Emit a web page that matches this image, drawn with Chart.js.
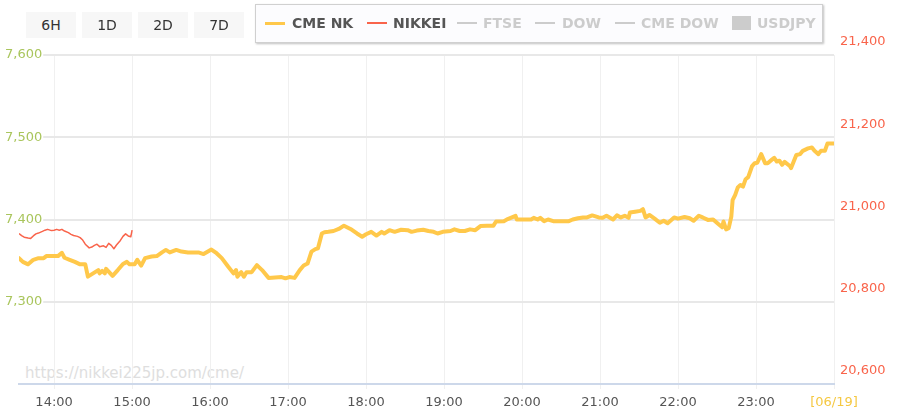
<!DOCTYPE html>
<html><head><meta charset="utf-8">
<script src="https://cdn.jsdelivr.net/npm/chart.js@4.4.0/dist/chart.umd.min.js"></script>
<style>
html,body{margin:0;padding:0;background:#fff;}
#wrap{position:relative;width:900px;height:415px;overflow:hidden;font-family:'DejaVu Sans',sans-serif;}
#c{position:absolute;left:0;top:0;z-index:1;}
#wm{position:absolute;left:25px;top:364px;font-size:15px;line-height:18px;color:#dedede;z-index:0;white-space:nowrap;}
.btn{position:absolute;top:12px;width:50px;height:26px;line-height:26px;background:#f7f7f7;color:#333;font-size:14px;text-align:center;z-index:2;}
#legend{position:absolute;left:255px;top:4px;width:566px;height:37px;background:#fcfcfe;border:1px solid #d0d0d0;box-shadow:1px 1px 2px rgba(0,0,0,0.25);z-index:2;}
.sw{position:absolute;}
.tx{position:absolute;top:0;line-height:37px;font-size:14px;font-weight:bold;white-space:nowrap;}
</style></head>
<body>
<div id="wrap">
  <div id="wm">https://nikkei225jp.com/cme/</div>
  <canvas id="c" width="900" height="415"></canvas>
  <div id="buttons"></div>
  <div id="legend"></div>
</div>
<script>
// ---- data ----
const rangeButtons = ["6H", "1D", "2D", "7D"];
const legendNames = ["CME NK", "NIKKEI", "FTSE", "DOW", "CME DOW", "USDJPY"];
const legendActive = [true, true, false, false, false, false];

const xRange = ["13:33", "00:00"];
const xTickTimes = ["14:00","15:00","16:00","17:00","18:00","19:00","20:00","21:00","22:00","23:00","00:00"];
const xTickLabels = ["14:00","15:00","16:00","17:00","18:00","19:00","20:00","21:00","22:00","23:00","[06/19]"];
const leftTicks = [7300, 7400, 7500, 7600];
const rightTicks = [20600, 20800, 21000, 21200, 21400];

const nikkeiTimes = ["13:33","13:35","13:37","13:40","13:42","13:44","13:46","13:48","13:51","13:53","13:55","13:58","14:00","14:02","14:04","14:06","14:08","14:11","14:13","14:15","14:18","14:20","14:22","14:24","14:27","14:29","14:31","14:33","14:35","14:38","14:40","14:42","14:44","14:46","14:48","14:51","14:53","14:55","14:57","14:59","15:00"];
const nikkeiValues = [20966,20961,20957,20955,20954,20960,20965,20967,20971,20974,20976,20973,20974,20976,20974,20976,20972,20968,20964,20961,20959,20956,20950,20940,20931,20933,20937,20940,20934,20936,20932,20942,20937,20929,20938,20949,20959,20965,20960,20958,20974];

const cmeTimes = ["13:33","13:36","13:40","13:44","13:48","13:52","13:54","13:59","14:03","14:06","14:08","14:12","14:16","14:20","14:24","14:26","14:30","14:34","14:35","14:37","14:39","14:40","14:45","14:49","14:53","14:56","14:58","15:02","15:04","15:07","15:10","15:15","15:19","15:23","15:26","15:29","15:34","15:38","15:43","15:51","15:55","16:01","16:05","16:09","16:14","16:18","16:20","16:21","16:24","16:26","16:28","16:32","16:36","16:40","16:45","16:50","16:55","16:58","17:01","17:05","17:09","17:12","17:15","17:18","17:21","17:23","17:26","17:28","17:31","17:35","17:39","17:43","17:48","17:53","17:57","18:00","18:04","18:08","18:12","18:14","18:18","18:22","18:27","18:32","18:35","18:39","18:44","18:48","18:52","18:55","18:59","19:05","19:08","19:12","19:16","19:20","19:24","19:28","19:33","19:38","19:40","19:46","19:49","19:55","19:56","20:02","20:07","20:09","20:12","20:14","20:17","20:20","20:24","20:30","20:36","20:39","20:43","20:47","20:50","20:54","20:59","21:02","21:05","21:10","21:13","21:16","21:19","21:22","21:23","21:27","21:31","21:33","21:35","21:38","21:42","21:46","21:49","21:52","21:57","22:00","22:05","22:09","22:12","22:16","22:19","22:23","22:27","22:31","22:34","22:35","22:37","22:39","22:41","22:42","22:44","22:46","22:48","22:50","22:52","22:54","22:57","22:59","23:01","23:04","23:07","23:09","23:12","23:14","23:16","23:18","23:20","23:22","23:26","23:27","23:29","23:31","23:34","23:36","23:40","23:43","23:45","23:48","23:50","23:53","23:55","23:58","00:00"];
const cmeValues = [20906,20897,20891,20902,20906,20906,20911,20911,20911,20919,20907,20902,20897,20891,20891,20861,20869,20877,20869,20875,20869,20880,20863,20877,20892,20897,20891,20891,20902,20888,20906,20910,20911,20920,20926,20920,20926,20922,20920,20920,20916,20927,20918,20906,20885,20869,20877,20861,20872,20861,20872,20872,20889,20877,20858,20859,20860,20857,20860,20858,20877,20888,20893,20922,20928,20930,20966,20969,20970,20972,20977,20985,20977,20966,20958,20964,20970,20961,20970,20966,20974,20970,20975,20974,20970,20973,20975,20972,20970,20966,20970,20972,20976,20972,20972,20976,20974,20984,20985,20985,20995,20996,21001,21009,21000,21000,21000,21004,21000,21004,20996,21000,20996,20996,20996,21000,21003,21005,21005,21010,21005,21004,21009,21000,21010,21005,21009,21004,21017,21019,21021,21025,21005,21011,21002,20992,20997,20991,21005,21002,21006,21003,20997,21009,21005,20999,21000,20989,20981,20995,20976,20979,21007,21047,21060,21078,21084,21080,21098,21103,21130,21137,21138,21159,21137,21137,21145,21150,21141,21143,21133,21140,21130,21125,21141,21157,21159,21167,21173,21175,21167,21159,21167,21167,21185,21185,21185];

// ---- helpers ----
function toMin(s) {
  const p = s.split(':').map(Number);
  let t = p[0] * 60 + p[1];
  if (t < 12 * 60) t += 1440;
  return t;
}
const fmt = v => Number(v).toLocaleString('en-US');

// ---- html controls ----
const btnLeft = [26, 82, 138, 194];
const bdiv = document.getElementById('buttons');
rangeButtons.forEach((b, i) => {
  const d = document.createElement('div');
  d.className = 'btn'; d.style.left = btnLeft[i] + 'px'; d.textContent = b;
  bdiv.appendChild(d);
});
const lg = document.getElementById('legend');
const swLeft = [9, 111, 201, 279, 359, 476];
const txLeft = [36, 137, 227, 306, 385, 501];
const swColor = ['#ffc84a', '#f9644b', '#cccccc', '#cccccc', '#cccccc', '#cccccc'];
const swKind = ['line3', 'line2', 'line2', 'line2', 'line2', 'rect'];
legendNames.forEach((n, i) => {
  const s = document.createElement('div');
  s.className = 'sw';
  s.style.left = swLeft[i] + 'px';
  s.style.background = swColor[i];
  if (swKind[i] === 'rect') { s.style.width = '19px'; s.style.height = '14px'; s.style.top = '11px'; }
  else if (swKind[i] === 'line3') { s.style.width = '20px'; s.style.height = '3px'; s.style.top = '17px'; }
  else { s.style.width = '20px'; s.style.height = '2px'; s.style.top = '17px'; }
  lg.appendChild(s);
  const t = document.createElement('div');
  t.className = 'tx'; t.style.left = txLeft[i] + 'px';
  t.style.color = legendActive[i] ? '#555' : '#cccccc';
  t.textContent = n;
  lg.appendChild(t);
});

// ---- chart ----
Chart.defaults.font.family = "'DejaVu Sans', sans-serif";
Chart.defaults.font.size = 13;

new Chart(document.getElementById('c'), {
  type: 'line',
  data: {
    datasets: [
      {
        label: legendNames[0],
        data: cmeTimes.map((t, i) => ({ x: toMin(t), y: cmeValues[i] })),
        yAxisID: 'yR', borderColor: '#ffc84a', borderWidth: 4,
        pointRadius: 0, tension: 0, borderJoinStyle: 'round', borderCapStyle: 'round', fill: false
      },
      {
        label: legendNames[1],
        data: nikkeiTimes.map((t, i) => ({ x: toMin(t), y: nikkeiValues[i] })),
        yAxisID: 'yR', borderColor: '#f9644b', borderWidth: 1.5,
        pointRadius: 0, tension: 0, borderJoinStyle: 'round', fill: false
      }
    ]
  },
  options: {
    responsive: false, animation: false, events: [],
    layout: { padding: { left: 19, top: 55, right: 0, bottom: 0 } },
    plugins: { legend: { display: false }, tooltip: { enabled: false } },
    scales: {
      x: {
        type: 'linear', min: toMin(xRange[0]), max: toMin(xRange[1]),
        afterBuildTicks: s => { s.ticks = xTickTimes.map(t => ({ value: toMin(t) })); },
        ticks: {
          autoSkip: false, maxRotation: 0, padding: 6,
          color: c => (c.index === xTickTimes.length - 1 ? '#f5c842' : '#555'),
          callback: (v, i) => xTickLabels[i]
        },
        grid: { color: '#f0f0f0', lineWidth: 1, tickLength: 5, drawTicks: true },
        border: { color: '#cdd8ea', width: 2 },
        afterFit: s => { s.height = 31; }
      },
      yL: {
        position: 'left', min: 7200, max: 7600,
        afterBuildTicks: s => { s.ticks = leftTicks.map(v => ({ value: v })); },
        ticks: {
          mirror: true, padding: -14, color: '#a9c55c',
          showLabelBackdrop: true, backdropColor: '#ffffff',
          backdropPadding: { top: 3, bottom: 3, left: 0, right: 1 },
          callback: v => fmt(v)
        },
        grid: { color: '#e8e8e8', lineWidth: 2, drawTicks: false },
        border: { display: false },
        afterFit: s => { s.width = 0; }
      },
      yR: {
        position: 'right', min: 20600, max: 21400,
        afterBuildTicks: s => { s.ticks = rightTicks.map(v => ({ value: v })); },
        ticks: { padding: 6, labelOffset: -13, color: '#f9644b', callback: v => fmt(v) },
        grid: { display: false, drawTicks: false },
        border: { display: false },
        afterFit: s => { s.width = 66; }
      }
    }
  }
});
</script>
</body></html>
